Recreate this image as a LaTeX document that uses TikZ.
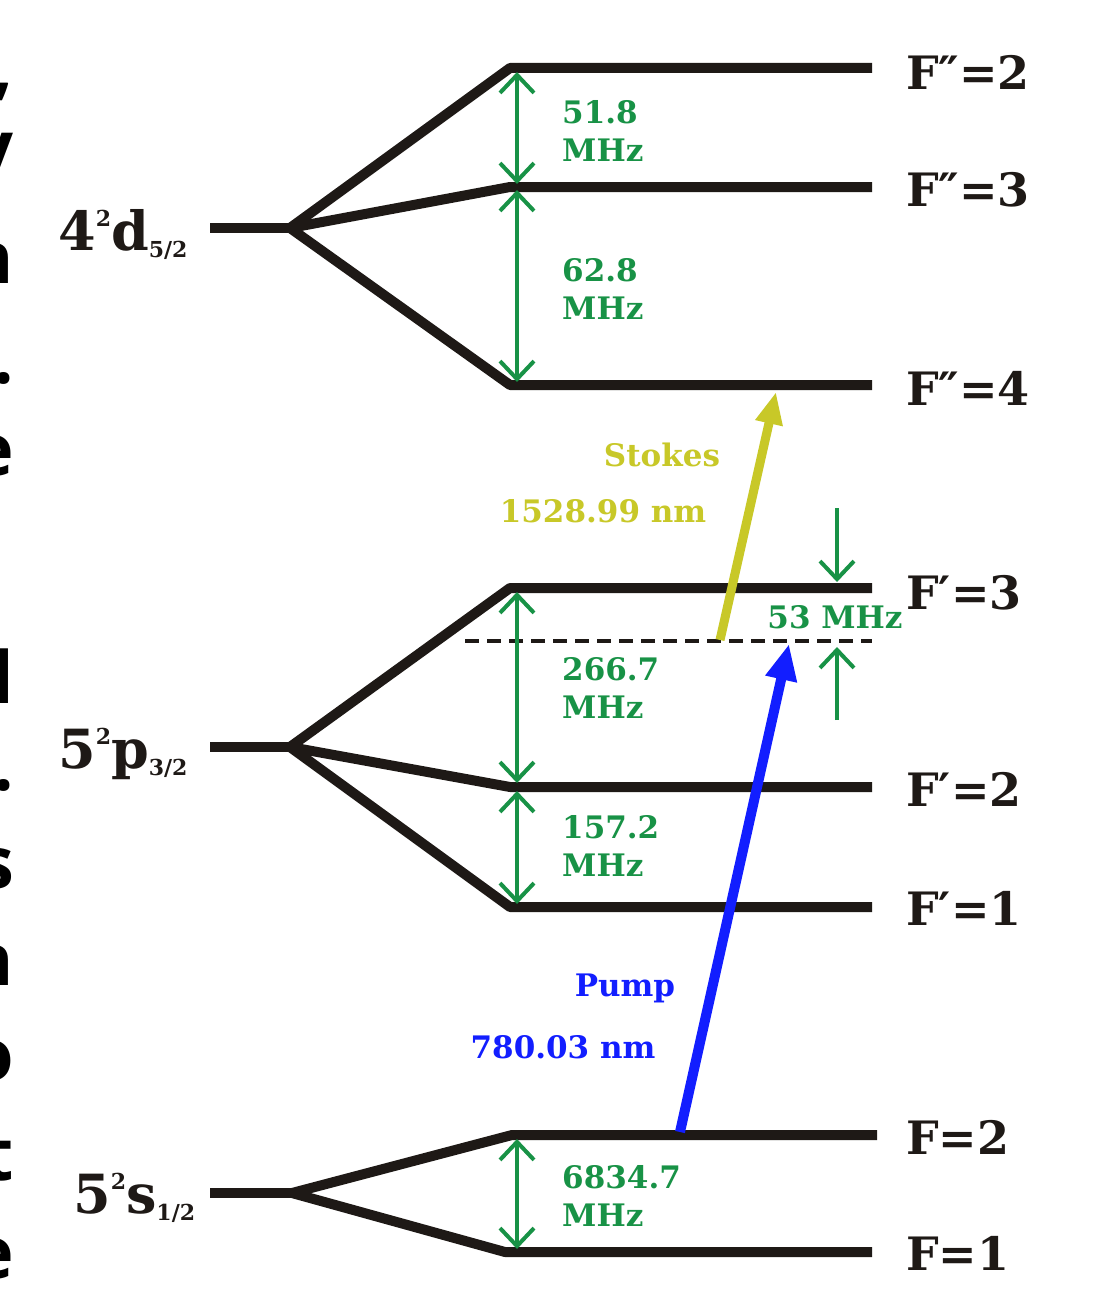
\documentclass[tikz,border=0pt]{standalone}
\usepackage{fontspec}
\setmainfont{DejaVu Serif}
\newfontfamily\edgefont{Open Sans}
\usetikzlibrary{arrows.meta}
\definecolor{lvlgreen}{RGB}{24,146,70}
\definecolor{stokesc}{RGB}{200,200,40}
\definecolor{pumpc}{RGB}{18,30,255}
\definecolor{lvlblack}{RGB}{30,25,22}
\newcommand\lsup[1]{\raisebox{24pt}{\fontsize{22}{22}\selectfont #1}}
\newcommand\lsub[1]{\raisebox{-7pt}{\fontsize{22}{22}\selectfont #1}}
\begin{document}
\begin{tikzpicture}[x=1pt,y=-1pt,
  level/.style={draw=lvlblack,line width=10pt,line join=round},
  gap/.style={draw=lvlgreen,line width=4pt,{Straight Barb[length=18pt,width=34pt]}-{Straight Barb[length=18pt,width=34pt]}},
  onegap/.style={draw=lvlgreen,line width=4pt,-{Straight Barb[length=18pt,width=34pt]}},
  glabel/.style={text=lvlgreen,font=\fontsize{31}{38}\selectfont\bfseries,align=left,anchor=west,inner sep=0pt},
  flabel/.style={text=lvlblack,font=\fontsize{46}{46}\selectfont\bfseries,anchor=base west,inner sep=0pt},
  termlabel/.style={text=lvlblack,font=\fontsize{54}{54}\selectfont\bfseries,anchor=base west,inner sep=0pt},
  beamlabel/.style={font=\fontsize{31}{36}\selectfont\bfseries,inner sep=0pt},
  edgeletter/.style={font=\edgefont\bfseries\fontsize{72}{72}\selectfont,anchor=base east,inner sep=0pt,text=black}]
\useasboundingbox[fill=white] (0,0) rectangle (1110,1290);

% ---- left-edge text fragments
\node[edgeletter] (e1) at (14,92) {,};
\node[edgeletter] (e2) at (14,172) {y};
\node[edgeletter] (e3) at (14,283) {n};
\node[edgeletter] (e4) at (14,383) {.};
\node[edgeletter] (e5) at (14,475) {e};
\node[edgeletter] (e6) at (14,703) {d};
\node[edgeletter] (e7) at (14,790) {.};
\node[edgeletter] (e8) at (14,888) {s};
\node[edgeletter] (e9) at (14,985) {n};
\node[edgeletter] (e10) at (14,1080) {o};
\node[edgeletter] (e11) at (14,1180) {t};
\node[edgeletter] (e12) at (14,1278) {e};

% ---- coordinates
\coordinate (dS) at (210,228);  \coordinate (dB) at (290,228);
\coordinate (d2a) at (510,68);  \coordinate (d2b) at (872,68);
\coordinate (d3a) at (510,187); \coordinate (d3b) at (872,187);
\coordinate (d4a) at (510,385); \coordinate (d4b) at (872,385);
\coordinate (pS) at (210,747);  \coordinate (pB) at (290,747);
\coordinate (p3a) at (510,588); \coordinate (p3b) at (872,588);
\coordinate (p2a) at (510,787); \coordinate (p2b) at (872,787);
\coordinate (p1a) at (510,907); \coordinate (p1b) at (872,907);
\coordinate (sS) at (210,1193); \coordinate (sB) at (292,1193);
\coordinate (s2a) at (512,1135); \coordinate (s2b) at (877,1135);
\coordinate (s1a) at (505,1252); \coordinate (s1b) at (872,1252);
\coordinate (vL) at (465,641);  \coordinate (vR) at (872,641);

% ---- level lines
\draw[level] (dS) -- (dB);
\draw[level] (dB) -- (d2a) -- (d2b);
\draw[level] (dB) -- (d3a) -- (d3b);
\draw[level] (dB) -- (d4a) -- (d4b);
\draw[level] (pS) -- (pB);
\draw[level] (pB) -- (p3a) -- (p3b);
\draw[level] (pB) -- (p2a) -- (p2b);
\draw[level] (pB) -- (p1a) -- (p1b);
\draw[level] (sS) -- (sB);
\draw[level] (sB) -- (s2a) -- (s2b);
\draw[level] (sB) -- (s1a) -- (s1b);
\draw[lvlblack,line width=4.5pt,dash pattern=on 14pt off 8pt] (vL) -- (vR);

% ---- splitting arrows
\coordinate (g1t) at (517,72);   \coordinate (g1b) at (517,184);
\coordinate (g2t) at (517,190);  \coordinate (g2b) at (517,382);
\coordinate (g3t) at (517,592);  \coordinate (g3b) at (517,783);
\coordinate (g4t) at (517,791);  \coordinate (g4b) at (517,904);
\coordinate (g5t) at (517,1139); \coordinate (g5b) at (517,1249);
\draw[gap] (g1t) -- (g1b);
\draw[gap] (g2t) -- (g2b);
\draw[gap] (g3t) -- (g3b);
\draw[gap] (g4t) -- (g4b);
\draw[gap] (g5t) -- (g5b);
\node[glabel] (l1) at (562,131) {51.8\\MHz};
\node[glabel] (l2) at (562,289) {62.8\\MHz};
\node[glabel] (l3) at (562,688) {266.7\\MHz};
\node[glabel] (l4) at (562,846) {157.2\\MHz};
\node[glabel] (l5) at (562,1196) {6834.7\\MHz};

% ---- detuning
\coordinate (dt1) at (837,508); \coordinate (dt2) at (837,582);
\coordinate (du1) at (837,720); \coordinate (du2) at (837,647);
\draw[onegap] (dt1) -- (dt2);
\draw[onegap] (du1) -- (du2);
\node[glabel,anchor=center] (l6) at (835,617) {53 MHz};

% ---- beams
\coordinate (stA) at (720,640); \coordinate (stB) at (776,392);
\draw[stokesc,line width=9pt,-{Triangle[length=32pt,width=26pt]}] (stA) -- (stB);
\coordinate (puA) at (680,1132); \coordinate (puB) at (789,644);
\draw[pumpc,line width=10pt,-{Triangle[length=36pt,width=30pt]}] (puA) -- (puB);
\node[beamlabel,text=stokesc] (sk1) at (662,455) {Stokes};
\node[beamlabel,text=stokesc] (sk2) at (603,511) {1528.99 nm};
\node[beamlabel,text=pumpc] (pm1) at (625,988) {Pump};
\node[beamlabel,text=pumpc] (pm2) at (563,1047) {780.03 nm};

% ---- F labels
\node[flabel] (f1) at (906,89)  {F″=2};
\node[flabel] (f2) at (906,206) {F″=3};
\node[flabel] (f3) at (906,405) {F″=4};
\node[flabel] (f4) at (906,609) {F′=3};
\node[flabel] (f5) at (906,806) {F′=2};
\node[flabel] (f6) at (906,925) {F′=1};
\node[flabel] (f7) at (906,1154) {F=2};
\node[flabel] (f8) at (906,1270) {F=1};

% ---- term labels
\node[termlabel] (t1) at (58,250) {4\lsup{2}d\lsub{5/2}};
\node[termlabel] (t2) at (58,768) {5\lsup{2}p\lsub{3/2}};
\node[termlabel] (t3) at (73,1213) {5\lsup{2}s\lsub{1/2}};
\end{tikzpicture}
\end{document}
